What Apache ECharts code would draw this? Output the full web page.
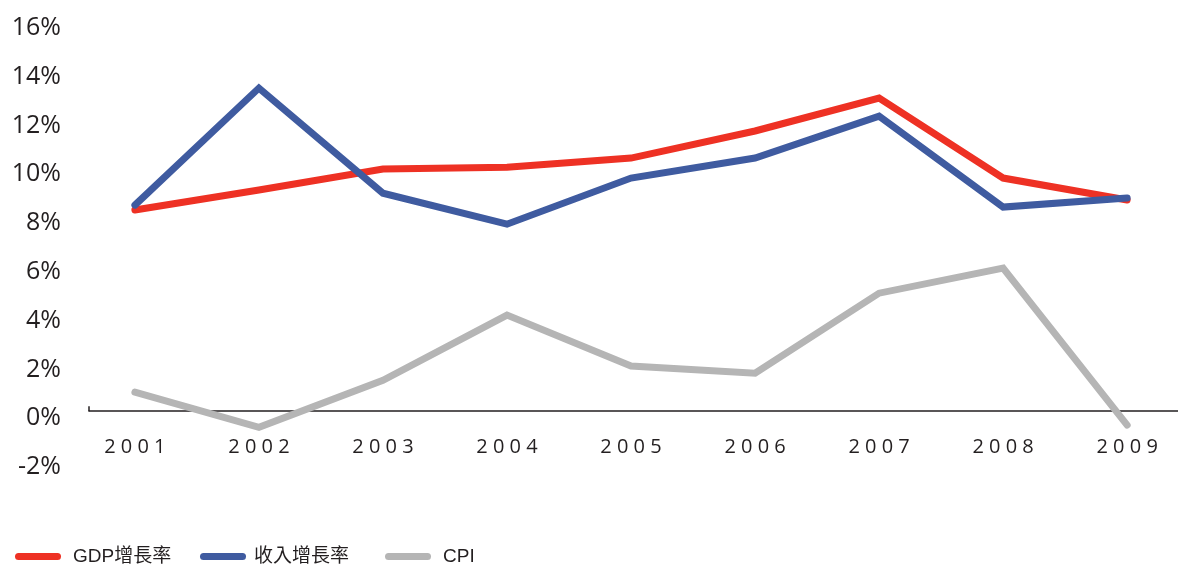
<!DOCTYPE html>
<html>
<head>
<meta charset="utf-8">
<script src="https://cdn.jsdelivr.net/npm/echarts@6/dist/echarts.min.js"></script>
<style>
    html, body { margin: 0; padding: 0; background: #fff; }
    #chart { width: 1178px; height: 566px; }
</style>
</head>
<body>
<div id="chart"></div>
<script>
    // 年份与各项增长率 (%)
    var years = [2001, 2002, 2003, 2004, 2005, 2006, 2007, 2008, 2009];
    var gdpRate = [8.25, 9.07, 9.93, 10.0, 10.38, 11.49, 12.84, 9.56, 8.66];
    var incomeRate = [8.45, 13.25, 8.94, 7.67, 9.56, 10.38, 12.1, 8.37, 8.74];
    var cpiRate = [0.78, -0.66, 1.27, 3.94, 1.85, 1.56, 4.84, 5.87, -0.57];
    var yTicks = [-2, 0, 2, 4, 6, 8, 10, 12, 14, 16];

    var names = ['GDP增長率', '收入增長率', 'CPI'];
    var colors = ['#ee3124', '#3f5ba0', '#b5b5b5'];

    var xMin = 2000.63;
    var xMax = 2009.41;
    var textColor = '#231f20';
    var pillIcon = 'path://M3.5,0 H42.5 A3.5,3.5 0 0 1 42.5,7 H3.5 A3.5,3.5 0 0 1 3.5,0 Z';

    function pairs(values) {
        return values.map(function (v, i) { return [years[i], v]; });
    }

    function buildSeries(name, values, color) {
        return {
            name: name,
            type: 'line',
            data: pairs(values),
            symbol: 'none',
            color: color,
            lineStyle: { width: 7, color: color, cap: 'round', join: 'miter' },
            emphasis: { disabled: true }
        };
    }

    function buildLegend(name, left, color, gap) {
        return {
            data: [{ name: name, icon: pillIcon, itemStyle: { color: color } }],
            left: left,
            top: 547,
            padding: 0,
            itemWidth: 46,
            itemHeight: 7,
            selectedMode: false,
            textStyle: {
                fontFamily: '"Liberation Sans", "Noto Sans CJK TC", sans-serif',
                fontSize: 19,
                color: textColor,
                padding: [0, 0, 0, gap]
            }
        };
    }

    var chart = echarts.init(document.getElementById('chart'), null, { renderer: 'canvas' });

    chart.setOption({
        animation: false,
        backgroundColor: '#fff',
        grid: { left: 89, right: 0, top: 21, bottom: 106, containLabel: false },
        legend: [
            buildLegend(names[0], 15, colors[0], 7),
            buildLegend(names[1], 200, colors[1], 3),
            buildLegend(names[2], 385, colors[2], 7)
        ],
        xAxis: {
            type: 'value',
            min: xMin,
            max: xMax,
            splitLine: { show: false },
            axisLine: { show: true, onZero: true, lineStyle: { color: textColor, width: 1.5 } },
            axisTick: {
                show: true,
                inside: true,
                length: 5,
                customValues: [xMin],
                lineStyle: { color: textColor, width: 1.5 }
            },
            axisLabel: {
                customValues: years,
                margin: -23,
                fontFamily: '"Open Sans", sans-serif',
                fontSize: 20,
                color: textColor,
                formatter: function (v) {
                    return String(Math.round(v)).split('').join(' ');
                }
            }
        },
        yAxis: {
            type: 'value',
            min: -2,
            max: 16,
            interval: 2,
            splitLine: { show: false },
            axisLine: { show: false },
            axisTick: { show: false },
            axisLabel: {
                customValues: yTicks,
                margin: 28,
                fontFamily: '"Open Sans", sans-serif',
                fontSize: 25,
                color: textColor,
                verticalAlign: 'top',
                lineHeight: 14,
                formatter: function (v) { return v + '%'; }
            }
        },
        series: [
            buildSeries(names[0], gdpRate, colors[0]),
            buildSeries(names[1], incomeRate, colors[1]),
            buildSeries(names[2], cpiRate, colors[2])
        ]
    });
</script>
</body>
</html>
